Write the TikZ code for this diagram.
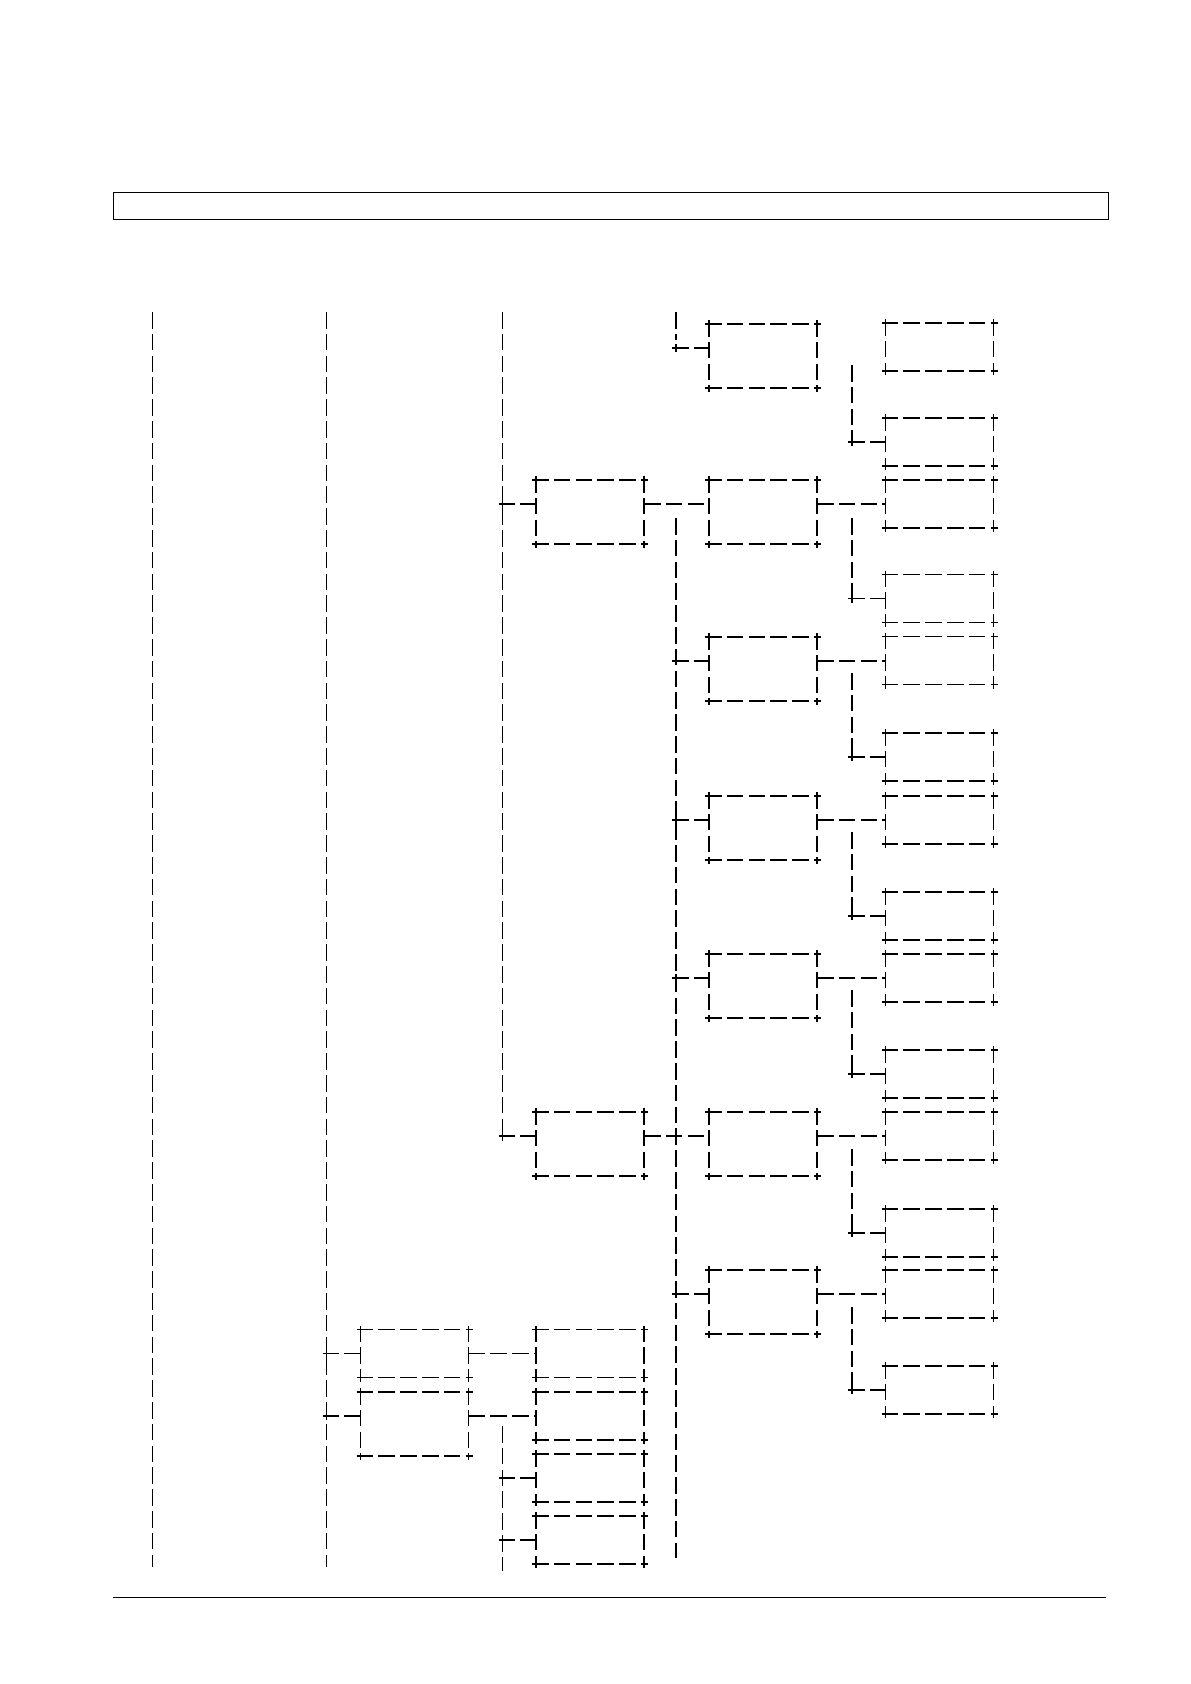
\documentclass[tikz,border=0pt]{standalone}
\tikzset{
  dl/.style={line width=0.55pt, dash pattern=on 8.3pt off 2.6pt},
  tickline/.style={line width=0.55pt},
  frameline/.style={line width=0.5pt},
  boxn/.style={rectangle, inner sep=0pt, outer sep=0pt, minimum width=54pt, draw=none},
}
% #1 name, #2 left x, #3 top y, #4 height (px)
\newcommand\mydbox[4]{%
  \node[boxn, minimum height=#4*0.5pt, anchor=north west] (#1) at (#2,#3) {};
  \draw[dl] ([xshift=-2pt]#1.north west) -- ([xshift=2pt]#1.north east);
  \draw[dl] ([xshift=-2pt]#1.south west) -- ([xshift=2pt]#1.south east);
  \draw[dl] ([yshift=2pt]#1.north west) -- ([yshift=-2pt]#1.south west);
  \draw[dl] ([yshift=2pt]#1.north east) -- ([yshift=-2pt]#1.south east);
}
% junction: #1 name, #2 x, #3 y, #4 target box
\newcommand\myjunc[4]{%
  \coordinate (#1) at (#2,#3);
  \draw[tickline] ([yshift=2pt]#1) -- ([yshift=-2pt]#1);
  \draw[dl] ([xshift=-2pt]#1) -- (#1 -| #4.west);
}
% horizontal link from box #1 to box #2 (24px below top of #1)
\newcommand\myhlink[2]{%
  \draw[dl] ([yshift=-12pt]#1.north east) -- ([yshift=-12pt]#1.north east -| #2.west);
}
\begin{document}
\begin{tikzpicture}[x=0.5pt, y=-0.5pt]
\useasboundingbox (0,0) rectangle (1190,1684);

% header frame and bottom rule
\node[draw, frameline, inner sep=0pt, outer sep=0pt, anchor=north west,
      minimum width=497.35pt, minimum height=13.85pt] (header) at (113.3,192.3) {};
\coordinate (ruleL) at (113,1597);
\coordinate (ruleR) at (1106,1597);
\draw[frameline] (ruleL) -- (ruleR);

% boxes
\def\xA{360.5}\def\xB{536}\def\xC{709}\def\xD{885.5}
\mydbox{C0}{\xC}{324}{64}
\mydbox{D0}{\xD}{323}{48}
\mydbox{D1}{\xD}{418}{48}
\mydbox{B3a}{\xB}{480}{64}
\mydbox{C1}{\xC}{480}{64}
\mydbox{D2}{\xD}{480}{48}
\mydbox{D3}{\xD}{574.5}{48}
\mydbox{C2}{\xC}{637}{64}
\mydbox{D4}{\xD}{636.5}{48}
\mydbox{D5}{\xD}{733}{48}
\mydbox{C3}{\xC}{796}{64}
\mydbox{D6}{\xD}{796}{48}
\mydbox{D7}{\xD}{892}{48}
\mydbox{C4}{\xC}{954}{64}
\mydbox{D8}{\xD}{954}{48}
\mydbox{D9}{\xD}{1050}{48}
\mydbox{B3b}{\xB}{1112}{64}
\mydbox{C5}{\xC}{1112}{64}
\mydbox{D10}{\xD}{1112}{48}
\mydbox{D11}{\xD}{1209}{48}
\mydbox{C6}{\xC}{1270}{64}
\mydbox{D12}{\xD}{1270}{48}
\mydbox{D13}{\xD}{1366}{48}
\mydbox{A1}{\xA}{1329.5}{48}
\mydbox{B4}{\xB}{1329.5}{48}
\mydbox{A2}{\xA}{1392}{64}
\mydbox{B5}{\xB}{1392}{48}
\mydbox{B6}{\xB}{1454}{48}
\mydbox{B7}{\xB}{1516}{48}

% column lines
\coordinate (c1t) at (152.5,312);  \coordinate (c1b) at (152.5,1567);
\draw[dl] (c1t) -- (c1b);
\coordinate (c2t) at (326.5,312);  \coordinate (c2b) at (326.5,1567);
\draw[dl] (c2t) -- (c2b);
\coordinate (c3t) at (502.5,312);  \coordinate (c3b) at (502.5,1141);
\draw[dl] (c3t) -- (c3b);
\coordinate (c3lt) at (502.5,1426); \coordinate (c3lb) at (502.5,1571);
\draw[dl] (c3lt) -- (c3lb);
\coordinate (c4st) at (676,312);   \coordinate (c4sb) at (676,340);
\draw[dl] (c4st) -- (c4sb);
\coordinate (c4t) at (676,518);    \coordinate (c4b) at (676,1558);
\draw[dl] (c4t) -- (c4b);
\foreach \n/\a/\b in {1/365/446, 3/518/602, 5/673/761, 7/832/920, 9/990/1078, 11/1149/1237, 13/1307/1394}{
  \coordinate (v\n t) at (852,\a); \coordinate (v\n b) at (852,\b);
  \draw[dl] (v\n t) -- (v\n b);
}

% junctions on column lines
\myjunc{jA1}{326.5}{1353.5}{A1}
\myjunc{jA2}{326.5}{1416}{A2}
\myjunc{jB3a}{502.5}{504}{B3a}
\myjunc{jB3b}{502.5}{1136}{B3b}
\myjunc{jB6}{502.5}{1478}{B6}
\myjunc{jB7}{502.5}{1540}{B7}
\myjunc{jC0}{676}{348}{C0}
\myjunc{jC2}{676}{661}{C2}
\myjunc{jC3}{676}{820}{C3}
\myjunc{jC4}{676}{978}{C4}
\myjunc{jC6}{676}{1294}{C6}
\myjunc{jD1}{852}{442}{D1}
\myjunc{jD3}{852}{598.5}{D3}
\myjunc{jD5}{852}{757}{D5}
\myjunc{jD7}{852}{916}{D7}
\myjunc{jD9}{852}{1074}{D9}
\myjunc{jD11}{852}{1233}{D11}
\myjunc{jD13}{852}{1390}{D13}

% horizontal links box to box
\myhlink{B3a}{C1}
\myhlink{C1}{D2}
\myhlink{C2}{D4}
\myhlink{C3}{D6}
\myhlink{C4}{D8}
\myhlink{B3b}{C5}
\myhlink{C5}{D10}
\myhlink{C6}{D12}
\myhlink{A1}{B4}
\myhlink{A2}{B5}
\end{tikzpicture}
\end{document}
